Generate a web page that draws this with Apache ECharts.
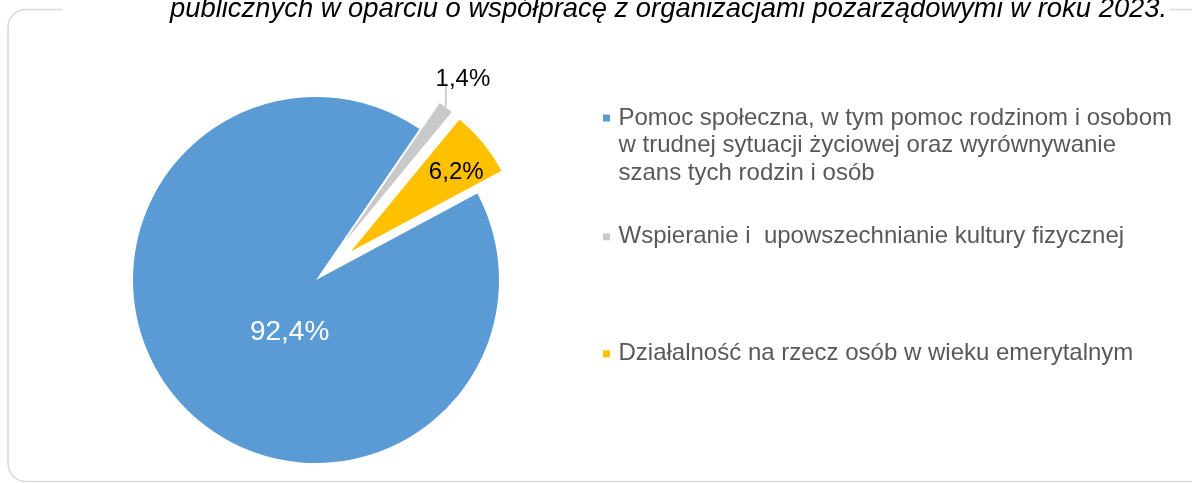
<!DOCTYPE html>
<html>
<head>
<meta charset="utf-8">
<script src="https://cdn.jsdelivr.net/npm/echarts@6/dist/echarts.min.js"></script>
<style>
  html, body { margin: 0; padding: 0; background: #fff; }
  #chart { width: 1192px; height: 483px; }
</style>
</head>
<body>
<div id="chart"></div>
<script>
// dane wykresu
const categories = [
    'Pomoc społeczna, w tym pomoc rodzinom i osobom\nw trudnej sytuacji życiowej oraz wyrównywanie\nszans tych rodzin i osób',
    'Wspieranie i  upowszechnianie kultury fizycznej',
    'Działalność na rzecz osób w wieku emerytalnym'
];
const values = [92.4, 1.4, 6.2];
const colors = ['#5B9BD5', '#C9C9C9', '#FFC000'];
const titleText = 'publicznych w oparciu o współpracę z organizacjami pozarządowymi w roku 2023.';

const font = 'Liberation Sans, Arial, sans-serif';
const hidden = 'rgba(0,0,0,0)';

const fmt = p => p.value.toFixed(1).replace('.', ',') + '%';

const chart = echarts.init(document.getElementById('chart'));

// seria 1: duzy wycinek (niewysuniety)
const mainData = categories.map((name, i) => ({
    name: name,
    value: values[i],
    itemStyle: { color: i === 0 ? colors[i] : hidden },
    label: i === 0
        ? { show: true, position: 'inside', formatter: fmt, color: '#fff', fontSize: 28, fontFamily: font, offset: [44, -11] }
        : { show: false },
    labelLine: { show: false }
}));

// seria 2: male wycinki (wysuniete)
const smallData = categories.map((name, i) => ({
    name: name,
    value: values[i],
    selected: i !== 0,
    itemStyle: { color: i === 0 ? hidden : colors[i] },
    label: i === 0 ? { show: false }
        : i === 1
            ? { show: true, position: 'outside', formatter: fmt, color: '#000', fontSize: 24, fontFamily: font }
            : { show: true, position: 'inside', formatter: fmt, color: '#000', fontSize: 24, fontFamily: font },
    labelLine: i === 1
        ? { show: true, length: 20, length2: 0, lineStyle: { color: '#A6A6A6', width: 1 } }
        : { show: false }
}));

const legendBase = {
    orient: 'vertical',
    left: 603,
    padding: 0,
    itemWidth: 14,
    itemHeight: 7,
    icon: 'path://M0,0L7,0L7,7L0,7Z',
    selectedMode: false,
    textStyle: { color: '#595959', fontSize: 24, fontFamily: font, lineHeight: 27.6 }
};

const option = {
    animation: false,
    title: {
        text: titleText,
        left: 170,
        top: -5.5,
        padding: 0,
        textStyle: { color: '#000', fontSize: 27.4, fontStyle: 'italic', fontWeight: 'normal', fontFamily: font, lineHeight: 30 }
    },
    graphic: [
        {
            type: 'rect', z: 0, silent: true,
            shape: { x: 8, y: 9.5, width: 1260, height: 472, r: 18 },
            style: { fill: 'none', stroke: '#D9D9D9', lineWidth: 1.5 }
        },
        {
            type: 'rect', z: 1, silent: true,
            shape: { x: 62, y: 0, width: 1108, height: 20 },
            style: { fill: '#fff' }
        }
    ],
    legend: [
        Object.assign({}, legendBase, {
            top: 49,
            data: [{ name: categories[0], itemStyle: { color: colors[0] } }],
            // dwie puste linie nad tekstem, zeby znacznik stal przy pierwszej linii
            formatter: name => '\n\n' + name
        }),
        Object.assign({}, legendBase, {
            top: 223,
            data: [{ name: categories[1], itemStyle: { color: colors[1] } }]
        }),
        Object.assign({}, legendBase, {
            top: 340,
            data: [{ name: categories[2], itemStyle: { color: colors[2] } }]
        })
    ],
    series: [
        {
            type: 'pie',
            center: [316, 280],
            radius: 183,
            startAngle: 28.2,
            clockwise: true,
            avoidLabelOverlap: false,
            silent: true,
            emphasis: { disabled: true },
            data: mainData
        },
        {
            type: 'pie',
            center: [316, 280],
            radius: 171,
            startAngle: 28.2,
            clockwise: true,
            avoidLabelOverlap: false,
            selectedMode: 'multiple',
            selectedOffset: 45,
            silent: true,
            emphasis: { disabled: true },
            data: smallData,
            labelLayout: function (params) {
                if (params.dataIndex === 2) return { dx: 37, dy: -23 };
                if (params.dataIndex !== 1 || !params.labelLinePoints) return {};
                const p = params.labelLinePoints[0];
                return {
                    x: p[0] + 10,
                    y: p[1] - 29,
                    align: 'center',
                    verticalAlign: 'bottom',
                    labelLinePoints: [[p[0], p[1]], [p[0], p[1] - 24], [p[0], p[1] - 24]]
                };
            }
        }
    ]
};

chart.setOption(option);
</script>
</body>
</html>
